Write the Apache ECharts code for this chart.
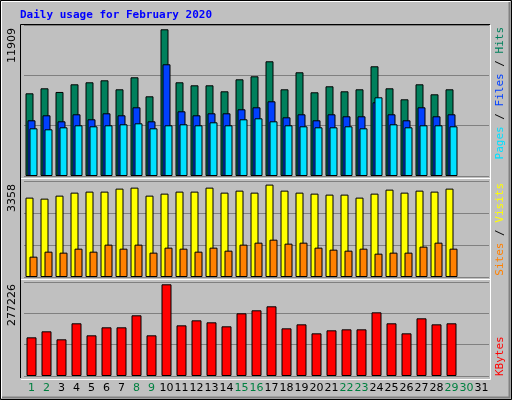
<!DOCTYPE html>
<html><head><meta charset="utf-8">
<script src="https://cdn.jsdelivr.net/npm/echarts@6/dist/echarts.min.js"></script>
<style>html,body{margin:0;padding:0;background:#c0c0c0}#c{width:512px;height:400px}</style>
</head><body><div id="c"></div>
<script>
const days = Array.from({length:31},(_,i)=>String(i+1));
const weekendDays = ['1','2','8','9','15','16','22','23','29','30'];
const hits = [6713,7119,6822,7444,7607,7769,7038,8013,6470,11909,7607,7363,7363,6876,7850,8094,9312,7038,8419,6795,7282,6876,7038,8906,7119,6226,7444,6632,7038];
const files = [4521,4927,4439,5008,4602,5089,4927,5576,4439,9068,5252,4927,5089,5089,5414,5576,6064,4764,5008,4521,5008,4846,4846,5982,5008,4521,5576,4846,5008];
const pages = [3871,3790,3952,4115,4033,4115,4196,4277,3871,4115,4196,4115,4358,4115,4602,4683,4439,4115,4033,3952,3952,4033,3871,6389,4196,3952,4115,4115,4033];
const visits = [2885,2848,2957,3066,3103,3103,3212,3248,2957,3030,3103,3103,3248,3066,3139,3066,3358,3139,3066,3030,2994,2994,2885,3030,3175,3066,3139,3103,3212];
const sites = [739,921,885,1030,921,1176,1030,1176,885,1067,1030,921,1067,957,1176,1248,1357,1212,1248,1067,994,957,1030,848,885,885,1103,1248,1030];
const kbytes = [116900,135100,110900,159300,123000,147200,147200,183500,123000,277226,153200,168300,162300,150200,189500,198600,210700,144100,156200,129000,138100,141100,141100,192500,159300,129000,174400,156200,159300];
const maxLabels = ['11909','3358','277226'];

const chart = echarts.init(document.getElementById('c'));
const L=24, W=465;
const grids=[{left:L,width:W,top:25,height:151},{left:L,width:W,top:181,height:96},{left:L,width:W,top:282,height:94}];
const maxes=[12258,3489,284200];
const xAxes=grids.map((g,i)=>({gridIndex:i,type:'category',data:days,
  axisLine:{show:false},axisTick:{show:false},
  axisLabel:{show:i===2,interval:0,fontSize:11,fontFamily:'DejaVu Sans',margin:7,
    color:(v)=>weekendDays.includes(v)?'#008040':'#000'}}));
const yAxes=maxes.map((m,i)=>({gridIndex:i,type:'value',min:0,max:m,interval:m/3,
  axisLabel:{show:false},axisLine:{show:false},axisTick:{show:false},
  splitLine:{lineStyle:{color:'#808080',width:1}}}));
const bs=(name,data,color,gi,w,gap)=>({name,type:'bar',data,xAxisIndex:gi,yAxisIndex:gi,barWidth:w,barGap:gap,
  itemStyle:{color,borderColor:'#000',borderWidth:1},animation:false,silent:true});
const rot=(text,x,y,align,fill,size,font,extra)=>Object.assign({type:'text',x,y,rotation:Math.PI/2,
  style:{text,fill,align,verticalAlign:'middle',font:size+'px '+font}},extra||{});
chart.setOption({
  animation:false,
  grid:grids,xAxis:xAxes,yAxis:yAxes,
  series:[
    bs('Hits',hits,'#00805c',0,8,'-75%'),
    bs('Files',files,'#0040ff',0,8,'-75%'),
    bs('Pages',pages,'#00e0ff',0,8,'-75%'),
    bs('Visits',visits,'#ffff00',1,8,'-50%'),
    bs('Sites',sites,'#ff8000',1,8,'-50%'),
    bs('KBytes',kbytes,'#ff0000',2,10,'0%')
  ],
  graphic:[
    {type:'rect',shape:{x:0.5,y:0.5,width:511,height:399},style:{fill:'none',stroke:'#000',lineWidth:1}},
    {type:'polyline',shape:{points:[[1.5,398],[1.5,1.5],[510,1.5]]},style:{stroke:'#fff',lineWidth:1,fill:'none'}},
    {type:'polyline',shape:{points:[[2,397.5],[509.5,397.5],[509.5,2]]},style:{stroke:'#808080',lineWidth:2,fill:'none'}},
    {type:'text',x:20,y:15,style:{text:'Daily usage for February 2020',fill:'#0000ff',font:'bold 11px "DejaVu Sans Mono"',verticalAlign:'middle'}},
    {type:'polyline',shape:{points:[[20.5,378],[20.5,24.5],[490,24.5]]},style:{stroke:'#000',lineWidth:1,fill:'none'}},
    {type:'polyline',shape:{points:[[21,379.5],[490.5,379.5],[490.5,25]]},style:{stroke:'#fff',lineWidth:1,fill:'none'}},
    {type:'line',shape:{x1:21,y1:178.5,x2:490,y2:178.5},style:{stroke:'#fff',lineWidth:1}},
    {type:'line',shape:{x1:21,y1:279.5,x2:490,y2:279.5},style:{stroke:'#fff',lineWidth:1}},
    rot(maxLabels[0],12,28,'right','#000',11,'"DejaVu Sans"'),
    rot(maxLabels[1],12,184,'right','#000',11,'"DejaVu Sans"'),
    rot(maxLabels[2],12,284,'right','#000',11,'"DejaVu Sans"'),
    {type:'text',x:500,y:27,rotation:Math.PI/2,style:{align:'right',verticalAlign:'middle',font:'11px "DejaVu Sans Mono"',
      rich:{p:{fill:'#00e0ff',font:'11px "DejaVu Sans Mono"'},f:{fill:'#0040ff',font:'11px "DejaVu Sans Mono"'},h:{fill:'#00805c',font:'11px "DejaVu Sans Mono"'},s:{fill:'#000',font:'11px "DejaVu Sans Mono"'}},
      text:'{p|Pages}{s| / }{f|Files}{s| / }{h|Hits}'}},
    {type:'text',x:500,y:183,rotation:Math.PI/2,style:{align:'right',verticalAlign:'middle',font:'11px "DejaVu Sans Mono"',
      rich:{a:{fill:'#ff8000',font:'11px "DejaVu Sans Mono"'},b:{fill:'#ffff00',font:'11px "DejaVu Sans Mono"'},s:{fill:'#000',font:'11px "DejaVu Sans Mono"'}},
      text:'{a|Sites}{s| / }{b|Visits}'}},
    {type:'text',x:500,y:376,rotation:Math.PI/2,style:{align:'left',verticalAlign:'middle',text:'KBytes',fill:'#ff0000',font:'11px "DejaVu Sans Mono"'}}
  ]
});
</script></body></html>
